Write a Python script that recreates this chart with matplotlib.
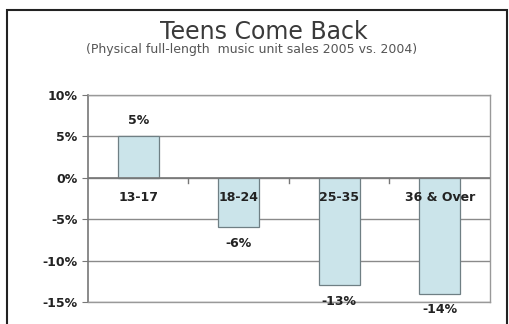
import numpy as np
import matplotlib.pyplot as plt

categories = ["13-17", "18-24", "25-35", "36 & Over"]
values = [5, -6, -13, -14]
yticks = [10, 5, 0, -5, -10, -15]

plt.rcParams['font.family'] = ['DejaVu Sans']

fig = plt.figure(figsize=(5.1, 3.24), dpi=100)
# outer frame, cut off at the bottom of the image
fig.patches.append(plt.Rectangle((7.5 / 510, -0.1), 500 / 510, 1.1 - 10 / 324,
                                 transform=fig.transFigure, fill=False,
                                 edgecolor='#222222', linewidth=1.5))

fig.text(0.518, 0.9, "Teens Come Back", ha='center', va='center',
         fontsize=17, color='#3a3a3a')
fig.text(0.494, 0.848, "(Physical full-length  music unit sales 2005 vs. 2004)",
         ha='center', va='center', fontsize=9, color='#555555')

ax = fig.add_axes([88 / 510, 1 - 302 / 324, 402 / 510, 207 / 324])
x = np.arange(len(categories))
ax.bar(x, values, width=0.41, color='#cbe4ea', edgecolor='#6f7f84', linewidth=0.9, zorder=2)

ax.set_xlim(-0.5, len(categories) - 0.5)
ax.set_ylim(-15, 10)
ax.set_yticks(yticks)
ax.set_yticklabels([f"{t}%" for t in yticks], fontsize=9, fontweight='bold', color='#222222')
ax.yaxis.grid(True, color='#8a8a8a', linewidth=1.0, zorder=0)
ax.tick_params(axis='y', length=4.5, color='#777777', pad=3)
ax.set_xticks([])

for s in ['top', 'right', 'bottom']:
    ax.spines[s].set_color('#999999')
    ax.spines[s].set_linewidth(1.0)
ax.spines['left'].set_color('#777777')
ax.spines['left'].set_linewidth(1.2)

# category axis sits on the zero line
ax.axhline(0, color='#777777', linewidth=1.2, zorder=3)
for b in np.arange(0.5, len(categories) - 0.5, 1.0):
    ax.plot([b, b], [0, -0.6], color='#777777', linewidth=1.0, zorder=3)

for xi, cat in zip(x, categories):
    ax.text(xi, -2.4, cat, ha='center', va='center', fontsize=9,
            fontweight='bold', color='#222222', zorder=4)

for xi, v in zip(x, values):
    offset = 1.9 if v >= 0 else -1.9
    ax.text(xi, v + offset, f"{v}%", ha='center', va='center', fontsize=9,
            fontweight='bold', color='#222222', clip_on=False)

fig.savefig("out.png", dpi=100)
